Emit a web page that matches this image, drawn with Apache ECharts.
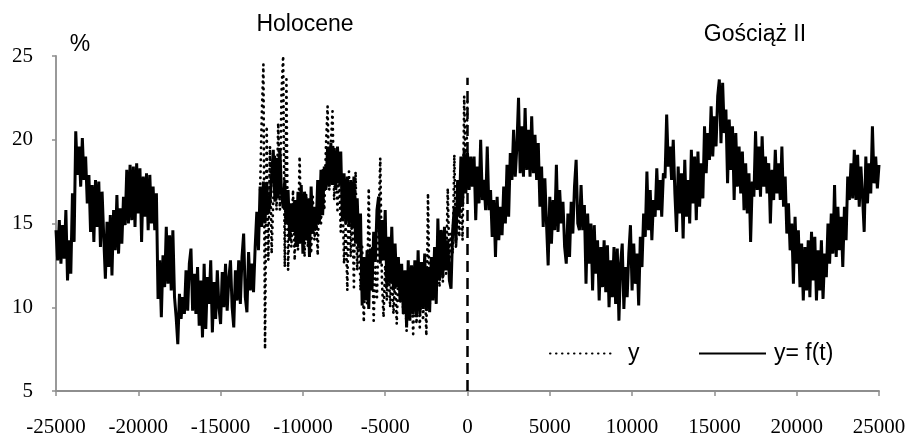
<!DOCTYPE html>
<html>
<head>
<meta charset="utf-8">
<script src="https://cdn.jsdelivr.net/npm/echarts@6/dist/echarts.min.js"></script>
<style>
  html, body { margin: 0; padding: 0; background: #fff; }
  #chart { width: 907px; height: 434px; }
</style>
</head>
<body>
<div id="chart"></div>
<script>
// Sampling grid of both curves (years, relative to the reference point 0)
const STEP = 100;

// y = f(t): modelled curve from -25000 to 25000, one row per 1000 years
const MODEL_START = -25000;
const modelValues = [
  14.6, 12.8, 15.2, 12.6, 14.9, 12.9, 15.8, 11.6, 14.0, 12.0,
  16.8, 13.9, 20.5, 17.9, 19.6, 17.2, 20.1, 17.6, 19.0, 16.2,
  17.9, 14.5, 17.3, 13.9, 17.6, 14.8, 17.5, 13.6, 16.9, 14.2,
  11.7, 15.1, 12.4, 15.5, 11.9, 15.8, 13.4, 16.7, 13.2, 15.9,
  13.8, 16.6, 14.9, 18.2, 15.0, 18.5, 15.2, 18.4, 14.8, 18.6,
  15.6, 18.3, 13.9, 17.8, 15.4, 18.0, 14.6, 17.9, 15.0, 17.2,
  14.6, 16.8, 10.5, 12.8,  9.4, 13.1, 11.2, 14.8, 11.4, 14.3,
  11.0, 14.6, 10.6,  9.4,  7.8, 10.8,  9.3, 10.6,  9.6, 12.2,
   9.8, 12.6, 13.5,  9.8, 12.0,  9.6, 12.4,  8.9, 11.6,  8.2,
  12.6,  8.7, 11.8, 10.2, 12.8,  8.5, 11.5,  9.3, 12.2, 10.0,
   9.0, 12.1, 10.0, 12.6,  9.8, 11.7, 12.8, 10.0,  8.8, 12.2,
  10.4, 12.8, 10.2, 13.0, 14.4, 10.6,  9.7, 13.3, 11.0, 12.6,
  10.9, 13.6, 15.7, 13.4, 17.2, 14.8, 17.5, 15.0, 17.4, 15.6,
  16.2, 17.8, 19.4, 16.3, 18.9, 16.5, 19.5, 16.8, 15.9, 17.6,
  15.0, 17.0, 14.0, 16.2, 14.5, 16.4, 13.6, 16.9, 13.8, 17.3,
  13.2, 16.9, 14.0, 16.5, 13.0, 17.2, 14.4, 16.0, 14.6, 17.6,
  15.0, 18.2, 15.5, 18.4, 17.0, 19.6, 17.2, 19.8, 17.3, 19.5,
  17.0, 19.6, 17.4, 19.3, 15.2, 18.0, 15.0, 17.8, 14.9, 17.6,
  14.8, 17.8, 13.8, 16.5, 13.5, 15.6, 10.1, 13.0, 10.4, 13.4,
   9.9, 13.5, 11.0, 14.5, 12.7, 15.8, 16.6, 12.6, 15.2, 12.8,
  15.8, 11.2, 14.2, 11.4, 14.8, 11.0, 13.8, 11.2, 13.0, 10.4,
  12.6,  9.6, 12.2,  8.8, 12.8,  9.2, 12.5,  9.6, 12.8,  9.4,
  13.4,  9.6, 12.7,  9.9, 13.2,  9.8, 12.4,  9.7, 13.0, 10.4,
  13.6, 10.2, 15.3, 11.6, 14.6, 11.8, 14.8, 12.2, 14.0, 11.6,
  11.1, 14.6, 16.0, 13.8, 17.6, 15.5, 19.0, 16.0, 19.4, 16.8,
  19.2, 17.0, 19.0, 17.2, 19.0, 15.2, 18.4, 16.2, 20.0, 16.4,
  17.6, 15.8, 19.6, 15.8, 17.0, 14.2, 16.4, 13.0, 16.6, 14.0,
  16.0, 14.3, 17.2, 15.0, 18.5, 15.4, 19.2, 17.6, 20.6, 17.8,
  19.6, 22.5, 18.0, 20.8, 17.8, 21.9, 18.2, 20.6, 17.8, 21.4,
  18.0, 20.3, 17.6, 19.8, 16.0, 18.4, 14.8, 17.7, 15.0, 12.5,
  16.6, 13.8, 16.4, 14.6, 18.5, 14.5, 17.0, 15.0, 16.3, 13.6,
  12.6, 15.6, 13.0, 16.3, 14.4, 17.2, 18.8, 15.0, 14.6, 17.3,
  14.6, 16.1, 11.4, 15.6, 12.6, 15.0, 11.0, 14.9, 12.0, 14.0,
  10.4, 13.6, 11.2, 14.0, 10.9, 13.7, 10.0, 12.8, 10.6, 13.6,
  10.2, 13.5,  9.2, 12.6, 13.8,  9.9, 12.4, 10.6, 13.2, 14.9,
  11.0, 13.8, 11.4, 13.2, 10.1, 14.2, 12.4, 15.6, 14.2, 18.1,
  14.6, 17.0, 14.0, 16.4, 15.4, 18.3, 15.8, 17.6, 15.4, 18.0,
  17.7, 21.5, 18.4, 19.6, 17.6, 20.0, 16.8, 14.5, 18.4, 15.6,
  18.0, 14.1, 18.8, 15.4, 17.6, 15.0, 19.4, 16.2, 19.0, 15.2,
  19.3, 16.0, 18.6, 16.5, 20.8, 18.0, 20.4, 18.8, 22.0, 19.0,
  21.4, 19.6, 22.6, 23.6, 19.8, 23.4, 20.4, 21.8, 17.4, 21.2,
  18.2, 20.8, 16.4, 20.4, 17.2, 19.6, 16.8, 19.3, 15.8, 18.6,
  15.6, 18.0, 13.9, 17.5, 16.6, 20.5, 17.0, 19.6, 16.6, 20.2,
  17.2, 19.0, 16.8, 18.6, 15.0, 18.2, 16.4, 19.4, 16.8, 18.6,
  16.4, 19.6, 16.0, 17.8, 14.4, 16.2, 13.4, 15.0, 11.4, 15.4,
  12.6, 14.6, 11.2, 13.8, 10.4, 13.6, 11.0, 14.0, 10.6, 14.5,
  11.6, 14.2, 10.4, 13.4, 11.0, 14.0, 10.5, 13.2, 11.8, 15.0,
  12.6, 15.6, 13.2, 17.3, 13.0, 16.0, 13.4, 15.4, 12.4, 16.0,
  14.0, 17.8, 16.4, 18.6, 16.5, 19.4, 16.4, 19.1, 16.0, 18.4,
  16.6, 14.5, 19.0, 16.2, 18.6, 16.8, 20.8, 17.4, 19.0, 17.1,
  18.5
];

// y: observed Holocene record from -12600 to 0, one row per 1000 years
const OBSERVED_START = -12600;
const observedValues = [
  17.0, 21.4, 24.5,  7.5, 20.8, 12.8, 19.6, 13.2, 16.4, 19.0,
  15.8, 21.0, 15.8, 22.8, 25.0, 12.4, 23.6, 12.2, 16.0, 13.6,
  17.0, 12.8, 16.4, 13.4, 19.0, 14.0, 16.6, 13.0, 16.8, 13.6,
  15.4, 13.2, 16.6, 14.0, 15.6, 13.1, 17.5, 15.0, 18.2, 15.8,
  19.6, 22.0, 17.0, 19.8, 21.7, 16.4, 19.0, 15.8, 18.0, 14.5,
  17.2, 12.6, 15.0, 11.0, 18.1, 13.0, 16.0, 11.2, 18.1, 12.2,
  15.0, 11.0, 13.6,  9.1, 12.8, 10.2, 17.1, 11.0, 13.6,  9.2,
  12.4, 10.6, 15.0, 18.9, 11.6,  9.4, 12.5, 10.4, 12.8, 10.0,
  12.4,  9.6, 11.6,  9.0, 12.0, 10.2, 11.8,  9.6, 11.4,  8.6,
  12.2,  9.4, 11.6,  8.4, 12.0,  9.0, 12.4,  8.8, 11.6,  9.2,
  12.0,  8.3, 16.8, 10.0, 12.4, 10.6, 13.5, 11.0, 12.8, 11.2,
  14.6, 11.5, 13.4, 12.0, 17.1, 12.6, 14.4, 13.2, 19.1, 13.5,
  16.4, 14.2, 17.0, 14.0, 22.6, 17.2, 22.4
];

// Axis extents and ticks
const X_MIN = -25000, X_MAX = 25000, X_INTERVAL = 5000;
const Y_MIN = 5, Y_MAX = 25, Y_INTERVAL = 5;

// Boundary between the two periods
const BOUNDARY_YEAR = 0;
const BOUNDARY_TOP = 23.7;

const seriesNames = { observed: 'y', model: 'y= f(t)' };
const periodLabels = { left: 'Holocene', right: 'Gościąż II' };
const unitLabel = '%';

function toPoints(start, values) {
  return values.map((v, i) => [start + i * STEP, v]);
}

const SANS = "'Liberation Sans', Arial, sans-serif";
const SERIF = "'Liberation Serif', 'Times New Roman', serif";
const AXIS_GREY = '#8e8e8e';

const chart = echarts.init(document.getElementById('chart'), null, { renderer: 'canvas' });

chart.setOption({
  animation: false,
  backgroundColor: '#fff',
  grid: {
    left: 56, right: 28, top: 56, bottom: 43,
    containLabel: false, outerBoundsMode: 'none'
  },
  xAxis: {
    type: 'value',
    min: X_MIN, max: X_MAX, interval: X_INTERVAL,
    splitLine: { show: false },
    axisLine: { onZero: false, lineStyle: { color: AXIS_GREY, width: 1.8 } },
    axisTick: { show: true, inside: false, length: 5, lineStyle: { color: AXIS_GREY, width: 1.5 } },
    axisLabel: {
      margin: 26, color: '#000', fontFamily: SERIF, fontSize: 21,
      formatter: v => String(v)
    }
  },
  yAxis: {
    type: 'value',
    min: Y_MIN, max: Y_MAX, interval: Y_INTERVAL,
    splitLine: { show: false },
    axisLine: { show: true, onZero: false, lineStyle: { color: AXIS_GREY, width: 1.8 } },
    axisTick: { show: true, inside: false, length: 4, lineStyle: { color: AXIS_GREY, width: 1.5 } },
    axisLabel: { margin: 23, color: '#000', fontFamily: SERIF, fontSize: 21 }
  },
  legend: [
    {
      data: [seriesNames.observed],
      left: 549, top: 342, padding: 0,
      itemWidth: 65, itemHeight: 24,
      itemStyle: { opacity: 0 },
      textStyle: { fontFamily: SANS, fontSize: 23, color: '#000', padding: [0, 0, 0, 8] }
    },
    {
      data: [seriesNames.model],
      left: 698, top: 342, padding: 0,
      itemWidth: 67, itemHeight: 24,
      itemStyle: { opacity: 0 },
      textStyle: { fontFamily: SANS, fontSize: 23, color: '#000', padding: [0, 0, 0, 3] }
    }
  ],
  graphic: [
    { type: 'text', x: 80, y: 45,
      style: { text: unitLabel, font: '23px ' + SANS, fill: '#000', align: 'center', verticalAlign: 'middle' } },
    { type: 'text', x: 305, y: 25,
      style: { text: periodLabels.left, font: '23px ' + SANS, fill: '#000', align: 'center', verticalAlign: 'middle' } },
    { type: 'text', x: 755, y: 35,
      style: { text: periodLabels.right, font: '23px ' + SANS, fill: '#000', align: 'center', verticalAlign: 'middle' } }
  ],
  series: [
    {
      name: seriesNames.model,
      type: 'line',
      data: toPoints(MODEL_START, modelValues),
      symbol: 'none',
      lineStyle: { color: '#000', width: 3, join: 'bevel' },
      itemStyle: { color: '#000' },
      z: 2,
      markLine: {
        silent: true,
        symbol: 'none',
        label: { show: false },
        lineStyle: { color: '#000', width: 2.5, type: [11, 6] },
        data: [[{ coord: [BOUNDARY_YEAR, Y_MIN] }, { coord: [BOUNDARY_YEAR, BOUNDARY_TOP] }]]
      }
    },
    {
      name: seriesNames.observed,
      type: 'line',
      data: toPoints(OBSERVED_START, observedValues),
      symbol: 'none',
      lineStyle: { color: '#000', width: 2.7, type: [0.5, 5.5], cap: 'round', join: 'round' },
      itemStyle: { color: '#000' },
      z: 3
    }
  ]
});
</script>
</body>
</html>
